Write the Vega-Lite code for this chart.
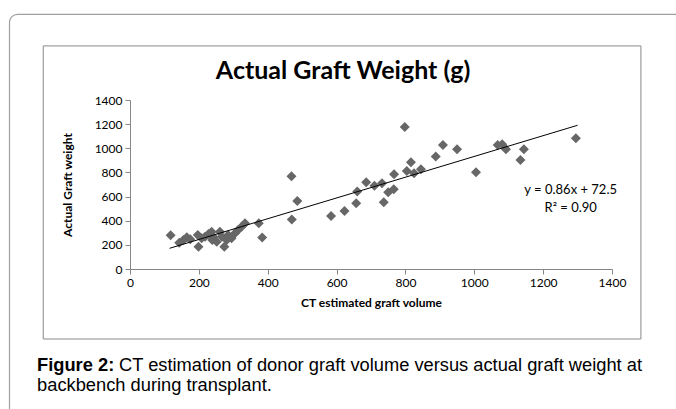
{
  "$schema": "https://vega.github.io/schema/vega-lite/v6.json",
  "width": 482,
  "height": 169,
  "autosize": {"type": "none"},
  "padding": {"left": 130, "top": 100, "right": 64, "bottom": 140},
  "background": "white",
  "config": {
    "view": {"stroke": null},
    "font": "Lato",
    "axis": {
      "domainColor": "#868686",
      "tickColor": "#868686",
      "labelColor": "#000000",
      "titleColor": "#000000",
      "labelFont": "Lato",
      "titleFont": "Lato",
      "labelFontSize": 12,
      "titleFontSize": 12,
      "titleFontWeight": "bold",
      "tickSize": 5,
      "grid": false,
      "format": "d",
      "labelOverlap": false,
      "labelFlush": false,
      "labelBound": false
    }
  },
  "datasets": {
    "pts": [
      {"v": 118, "w": 280}, {"v": 143, "w": 218}, {"v": 155, "w": 240}, {"v": 165, "w": 262},
      {"v": 175, "w": 246}, {"v": 197, "w": 282}, {"v": 199, "w": 185}, {"v": 208, "w": 254},
      {"v": 218, "w": 268}, {"v": 228, "w": 290}, {"v": 237, "w": 309}, {"v": 239, "w": 240},
      {"v": 242, "w": 268}, {"v": 252, "w": 226}, {"v": 261, "w": 309}, {"v": 267, "w": 268},
      {"v": 274, "w": 185}, {"v": 281, "w": 240}, {"v": 285, "w": 282}, {"v": 295, "w": 254},
      {"v": 305, "w": 296}, {"v": 314, "w": 323}, {"v": 324, "w": 350}, {"v": 334, "w": 378},
      {"v": 374, "w": 378}, {"v": 384, "w": 260}, {"v": 469, "w": 768}, {"v": 470, "w": 410},
      {"v": 486, "w": 563}, {"v": 584, "w": 440}, {"v": 623, "w": 480}, {"v": 657, "w": 544},
      {"v": 660, "w": 641}, {"v": 686, "w": 718}, {"v": 710, "w": 690}, {"v": 732, "w": 710},
      {"v": 737, "w": 552}, {"v": 750, "w": 635}, {"v": 766, "w": 660}, {"v": 767, "w": 785},
      {"v": 798, "w": 1177}, {"v": 804, "w": 812}, {"v": 816, "w": 884}, {"v": 825, "w": 793},
      {"v": 845, "w": 826}, {"v": 888, "w": 931}, {"v": 909, "w": 1027}, {"v": 950, "w": 991},
      {"v": 1005, "w": 802}, {"v": 1068, "w": 1027}, {"v": 1081, "w": 1033}, {"v": 1092, "w": 992},
      {"v": 1134, "w": 903}, {"v": 1144, "w": 992}, {"v": 1295, "w": 1083}
    ],
    "one": [{"k": 1}]
  },
  "layer": [
    {
      "data": {"name": "pts"},
      "mark": {"type": "point", "shape": "diamond", "filled": true, "size": 100, "color": "#676767", "opacity": 1},
      "encoding": {
        "x": {"field": "v", "type": "quantitative", "scale": {"domain": [0, 1400], "nice": false},
          "axis": {"values": [0, 200, 400, 600, 800, 1000, 1200, 1400], "title": "CT estimated graft volume", "labelPadding": 3, "titlePadding": 9}},
        "y": {"field": "w", "type": "quantitative", "scale": {"domain": [0, 1400], "nice": false},
          "axis": {"values": [0, 200, 400, 600, 800, 1000, 1200, 1400], "title": "Actual Graft weight", "labelPadding": 3, "titlePadding": 20}}
      }
    },
    {
      "data": {"name": "one"},
      "mark": {"type": "rect", "fill": null, "stroke": "#a0a0a0", "strokeWidth": 1.2, "cornerRadius": 8, "clip": false},
      "encoding": {
        "x": {"datum": -350, "type": "quantitative", "scale": {"domain": [0, 1400], "nice": false},
          "axis": {"values": [0, 200, 400, 600, 800, 1000, 1200, 1400], "title": "CT estimated graft volume", "labelPadding": 3, "titlePadding": 9}},
        "x2": {"datum": 2200},
        "y": {"datum": 2110, "type": "quantitative", "scale": {"domain": [0, 1400], "nice": false},
          "axis": {"values": [0, 200, 400, 600, 800, 1000, 1200, 1400], "title": "Actual Graft weight", "labelPadding": 3, "titlePadding": 20}},
        "y2": {"datum": -2500}
      }
    },
    {
      "data": {"name": "one"},
      "mark": {"type": "rect", "fill": null, "stroke": "#8a8a8a", "strokeWidth": 1, "clip": false},
      "encoding": {
        "x": {"datum": -252, "type": "quantitative", "scale": {"domain": [0, 1400], "nice": false},
          "axis": {"values": [0, 200, 400, 600, 800, 1000, 1200, 1400], "title": "CT estimated graft volume", "labelPadding": 3, "titlePadding": 9}},
        "x2": {"datum": 1484},
        "y": {"datum": 1848, "type": "quantitative", "scale": {"domain": [0, 1400], "nice": false},
          "axis": {"values": [0, 200, 400, 600, 800, 1000, 1200, 1400], "title": "Actual Graft weight", "labelPadding": 3, "titlePadding": 20}},
        "y2": {"datum": -580}
      }
    },
    {
      "data": {"name": "one"},
      "mark": {"type": "rule", "color": "#000000", "strokeWidth": 1},
      "encoding": {
        "x": {"datum": 115, "type": "quantitative", "scale": {"domain": [0, 1400], "nice": false},
          "axis": {"values": [0, 200, 400, 600, 800, 1000, 1200, 1400], "title": "CT estimated graft volume", "labelPadding": 3, "titlePadding": 9}},
        "x2": {"datum": 1300},
        "y": {"datum": 171.4, "type": "quantitative", "scale": {"domain": [0, 1400], "nice": false},
          "axis": {"values": [0, 200, 400, 600, 800, 1000, 1200, 1400], "title": "Actual Graft weight", "labelPadding": 3, "titlePadding": 20}},
        "y2": {"datum": 1190.5}
      }
    },
    {
      "data": {"name": "one"},
      "mark": {"type": "text", "font": "Lato", "fontSize": 25, "fontWeight": "bold", "color": "#000000", "align": "center", "baseline": "middle"},
      "encoding": {
        "x": {"datum": 619, "type": "quantitative", "scale": {"domain": [0, 1400], "nice": false},
          "axis": {"values": [0, 200, 400, 600, 800, 1000, 1200, 1400], "title": "CT estimated graft volume", "labelPadding": 3, "titlePadding": 9}},
        "y": {"datum": 1640, "type": "quantitative", "scale": {"domain": [0, 1400], "nice": false},
          "axis": {"values": [0, 200, 400, 600, 800, 1000, 1200, 1400], "title": "Actual Graft weight", "labelPadding": 3, "titlePadding": 20}},
        "text": {"value": "Actual Graft Weight (g)"}
      }
    },
    {
      "data": {"name": "one"},
      "mark": {"type": "text", "font": "Lato", "fontSize": 13, "color": "#000000", "align": "center", "baseline": "middle"},
      "encoding": {
        "x": {"datum": 1280, "type": "quantitative", "scale": {"domain": [0, 1400], "nice": false},
          "axis": {"values": [0, 200, 400, 600, 800, 1000, 1200, 1400], "title": "CT estimated graft volume", "labelPadding": 3, "titlePadding": 9}},
        "y": {"datum": 654, "type": "quantitative", "scale": {"domain": [0, 1400], "nice": false},
          "axis": {"values": [0, 200, 400, 600, 800, 1000, 1200, 1400], "title": "Actual Graft weight", "labelPadding": 3, "titlePadding": 20}},
        "text": {"value": "y = 0.86x + 72.5"}
      }
    },
    {
      "data": {"name": "one"},
      "mark": {"type": "text", "font": "Lato", "fontSize": 13, "color": "#000000", "align": "center", "baseline": "middle"},
      "encoding": {
        "x": {"datum": 1280, "type": "quantitative", "scale": {"domain": [0, 1400], "nice": false},
          "axis": {"values": [0, 200, 400, 600, 800, 1000, 1200, 1400], "title": "CT estimated graft volume", "labelPadding": 3, "titlePadding": 9}},
        "y": {"datum": 505, "type": "quantitative", "scale": {"domain": [0, 1400], "nice": false},
          "axis": {"values": [0, 200, 400, 600, 800, 1000, 1200, 1400], "title": "Actual Graft weight", "labelPadding": 3, "titlePadding": 20}},
        "text": {"value": "R² = 0.90"}
      }
    },
    {
      "data": {"name": "one"},
      "mark": {"type": "text", "font": "Liberation Sans", "fontSize": 18.3, "fontWeight": "bold", "color": "#000000", "align": "left", "baseline": "middle"},
      "encoding": {
        "x": {"datum": -270, "type": "quantitative", "scale": {"domain": [0, 1400], "nice": false},
          "axis": {"values": [0, 200, 400, 600, 800, 1000, 1200, 1400], "title": "CT estimated graft volume", "labelPadding": 3, "titlePadding": 9}},
        "y": {"datum": -804, "type": "quantitative", "scale": {"domain": [0, 1400], "nice": false},
          "axis": {"values": [0, 200, 400, 600, 800, 1000, 1200, 1400], "title": "Actual Graft weight", "labelPadding": 3, "titlePadding": 20}},
        "text": {"value": "Figure 2:"}
      }
    },
    {
      "data": {"name": "one"},
      "mark": {"type": "text", "font": "Liberation Sans", "fontSize": 18.3, "color": "#000000", "align": "left", "baseline": "middle", "dx": 82},
      "encoding": {
        "x": {"datum": -270, "type": "quantitative", "scale": {"domain": [0, 1400], "nice": false},
          "axis": {"values": [0, 200, 400, 600, 800, 1000, 1200, 1400], "title": "CT estimated graft volume", "labelPadding": 3, "titlePadding": 9}},
        "y": {"datum": -804, "type": "quantitative", "scale": {"domain": [0, 1400], "nice": false},
          "axis": {"values": [0, 200, 400, 600, 800, 1000, 1200, 1400], "title": "Actual Graft weight", "labelPadding": 3, "titlePadding": 20}},
        "text": {"value": "CT estimation of donor graft volume versus actual graft weight at"}
      }
    },
    {
      "data": {"name": "one"},
      "mark": {"type": "text", "font": "Liberation Sans", "fontSize": 18.3, "color": "#000000", "align": "left", "baseline": "middle"},
      "encoding": {
        "x": {"datum": -270, "type": "quantitative", "scale": {"domain": [0, 1400], "nice": false},
          "axis": {"values": [0, 200, 400, 600, 800, 1000, 1200, 1400], "title": "CT estimated graft volume", "labelPadding": 3, "titlePadding": 9}},
        "y": {"datum": -972, "type": "quantitative", "scale": {"domain": [0, 1400], "nice": false},
          "axis": {"values": [0, 200, 400, 600, 800, 1000, 1200, 1400], "title": "Actual Graft weight", "labelPadding": 3, "titlePadding": 20}},
        "text": {"value": "backbench during transplant."}
      }
    }
  ]
}
